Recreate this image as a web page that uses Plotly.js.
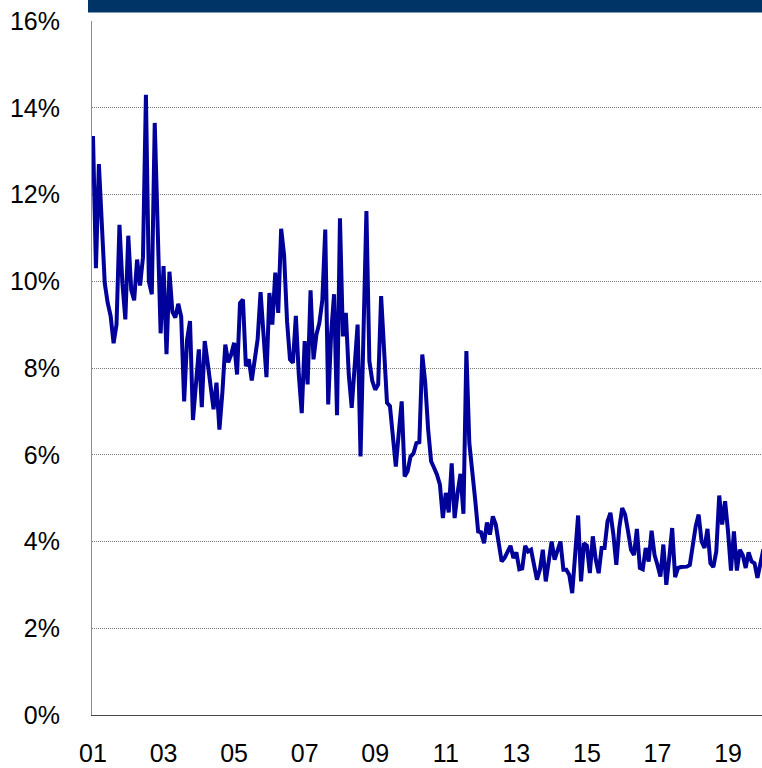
<!DOCTYPE html>
<html>
<head>
<meta charset="utf-8">
<script src="https://cdn.plot.ly/plotly-3.0.1.min.js"></script>
<style>
  html, body { margin: 0; padding: 0; background: #ffffff; }
  #chart { width: 762px; height: 768px; }
</style>
</head>
<body>
<div id="chart"></div>
<script>
// Monthly rate, in percent, one array per calendar year (Jan..Dec)
const rate2001 = [13.35, 10.3, 12.7, 11.3, 9.95, 9.5, 9.2, 8.57, 9.0, 11.3, 9.95, 9.12];
const rate2002 = [11.05, 9.8, 9.56, 10.5, 9.9, 10.55, 14.3, 10.0, 9.7, 13.65, 11.2, 8.8];
const rate2003 = [10.35, 8.32, 10.22, 9.3, 9.16, 9.48, 9.18, 7.23, 8.65, 9.08, 6.8, 7.6];
const rate2004 = [8.43, 7.1, 8.62, 8.12, 7.58, 7.05, 7.66, 6.58, 7.43, 8.54, 8.13, 8.31];
const rate2005 = [8.58, 7.85, 9.5, 9.58, 8.04, 8.2, 7.71, 8.2, 8.66, 9.75, 8.8, 7.79];
const rate2006 = [9.73, 9.0, 10.2, 9.27, 11.21, 10.6, 9.08, 8.2, 8.12, 9.2, 7.85, 6.96];
const rate2007 = [8.62, 7.62, 9.79, 8.2, 8.77, 9.04, 9.56, 11.19, 7.16, 8.8, 9.7, 6.91];
const rate2008 = [11.45, 8.73, 9.27, 7.85, 7.08, 8.0, 9.0, 5.96, 8.8, 11.62, 8.16, 7.7];
const rate2009 = [7.5, 7.62, 9.66, 8.47, 7.2, 7.12, 6.4, 5.73, 6.5, 7.23, 5.5, 5.62];
const rate2010 = [5.96, 6.03, 6.27, 6.29, 8.31, 7.66, 6.58, 5.85, 5.7, 5.54, 5.31, 4.54];
const rate2011 = [5.12, 4.67, 5.8, 4.54, 5.12, 5.56, 4.64, 8.39, 6.27, 5.66, 4.96, 4.23];
const rate2012 = [4.21, 3.96, 4.44, 4.16, 4.58, 4.39, 3.93, 3.54, 3.62, 3.77, 3.9, 3.62];
const rate2013 = [3.75, 3.36, 3.38, 3.9, 3.77, 3.81, 3.46, 3.12, 3.35, 3.81, 3.08, 3.58];
const rate2014 = [4.0, 3.58, 3.77, 4.0, 3.35, 3.35, 3.23, 2.81, 3.7, 4.6, 3.08, 3.96];
const rate2015 = [3.9, 3.27, 4.12, 3.58, 3.27, 3.85, 3.85, 4.46, 4.66, 4.16, 3.46, 4.31];
const rate2016 = [4.77, 4.62, 4.23, 3.81, 3.69, 4.29, 3.39, 3.36, 3.85, 3.54, 4.25, 3.69];
const rate2017 = [3.46, 3.19, 3.93, 3.0, 3.62, 4.31, 3.18, 3.39, 3.41, 3.41, 3.42, 3.46];
const rate2018 = [3.88, 4.35, 4.62, 4.0, 3.85, 4.29, 3.5, 3.41, 3.77, 5.06, 4.39, 4.93];
const rate2019 = [4.23, 3.33, 4.23, 3.33, 3.81, 3.69, 3.39, 3.75, 3.54, 3.5, 3.16, 3.46];
const rate2020 = [3.82];

// Axis labels
const yearTickLabels = ['01', '03', '05', '07', '09', '11', '13', '15', '17', '19'];
const percentTicks = [0, 2, 4, 6, 8, 10, 12, 14, 16];
const percentTickText = percentTicks.map(v => v + '%');

// Build the continuous monthly series (month 0 = Jan 2001)
const series = [].concat(
  rate2001, rate2002, rate2003, rate2004, rate2005, rate2006, rate2007,
  rate2008, rate2009, rate2010, rate2011, rate2012, rate2013, rate2014,
  rate2015, rate2016, rate2017, rate2018, rate2019, rate2020
);
const monthIndex = series.map((_, i) => i);
const tickMonths = yearTickLabels.map((_, i) => i * 24); // every second January

const trace = {
  x: monthIndex,
  y: series,
  type: 'scatter',
  mode: 'lines',
  line: { color: '#00009a', width: 4 },
  hoverinfo: 'skip'
};

const layout = {
  width: 762,
  height: 768,
  margin: { l: 92, r: 0, t: 21, b: 53, pad: 0 },
  paper_bgcolor: '#ffffff',
  plot_bgcolor: '#ffffff',
  showlegend: false,
  font: { family: 'Liberation Sans, Arial, sans-serif', size: 25, color: '#000000' },
  xaxis: {
    range: [-0.34, 227.55],
    tickmode: 'array',
    tickvals: tickMonths,
    ticktext: yearTickLabels,
    showgrid: false,
    zeroline: false,
    showline: true,
    linecolor: '#4a4a4a',
    linewidth: 1.3,
    ticks: 'outside',
    ticklen: 16,
    tickcolor: 'rgba(0,0,0,0)',
    fixedrange: true
  },
  yaxis: {
    range: [0, 16],
    tickmode: 'array',
    tickvals: percentTicks,
    ticktext: percentTickText,
    showgrid: true,
    gridcolor: '#7a7a7a',
    gridwidth: 1,
    griddash: '1px,1px',
    zeroline: false,
    showline: true,
    linecolor: '#8c8c8c',
    linewidth: 1,
    ticks: 'outside',
    ticklen: 26,
    tickcolor: 'rgba(0,0,0,0)',
    fixedrange: true
  },
  shapes: [
    // navy header band above the plot
    {
      type: 'rect', xref: 'paper', yref: 'paper',
      x0: -0.006, x1: 1.01, y0: 1.0121, y1: 1.05,
      fillcolor: '#003366', line: { width: 0 }, layer: 'above'
    }
  ]
};

Plotly.newPlot('chart', [trace], layout, { staticPlot: true, displayModeBar: false });
</script>
</body>
</html>
